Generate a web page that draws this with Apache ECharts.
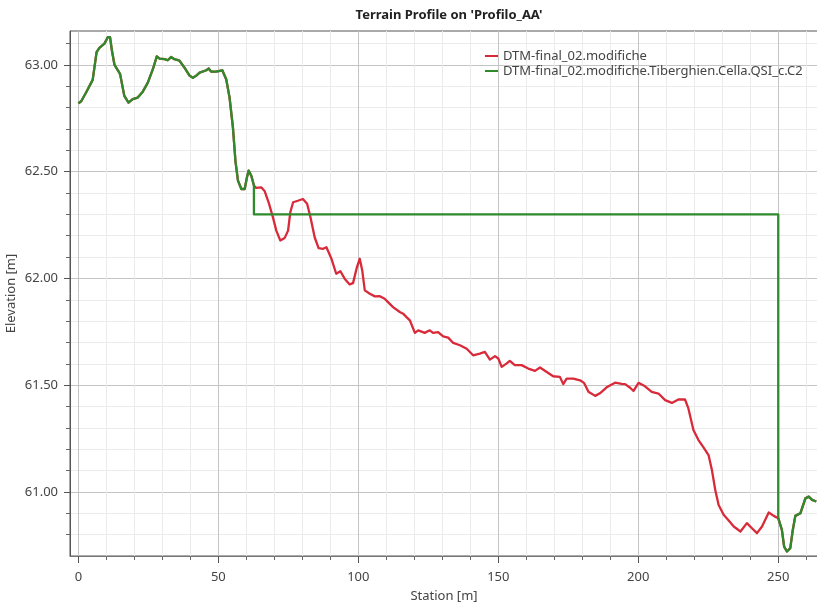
<!DOCTYPE html>
<html>
<head>
<meta charset="utf-8">
<script src="https://cdn.jsdelivr.net/npm/echarts@6/dist/echarts.min.js"></script>
<style>
html,body{margin:0;padding:0;background:#fff;}
#chart{width:817px;height:606px;}
</style>
</head>
<body>
<div id="chart"></div>
<script>
// ---- data ----
const titleText = "Terrain Profile on 'Profilo_AA'";
const seriesNames = ['DTM-final_02.modifiche', 'DTM-final_02.modifiche.Tiberghien.Cella.QSI_c.C2'];
const xAxisName = 'Station [m]';
const yAxisName = 'Elevation [m]';

const stations = [0,1,2.7,5.1,6.5,7.5,9.3,10.5,11.3,12.0,12.9,14.1,14.9,16.4,17.9,19.4,21.2,23.0,24.8,26.6,28.0,29.0,30.8,31.9,33.1,34.3,36.1,37.9,39.7,40.9,42.1,43.3,45.7,46.6,47.4,49.2,51.4,52.8,54.0,55.2,56.1,57.0,58.2,59.4,60.2,60.8,61.8,62.7,63.5,65.3,66.5,68.1,69.5,70.7,72.1,73.7,74.9,75.7,76.7,78.4,80.2,81.7,82.9,84.4,85.8,87.4,88.6,90.4,92.1,93.6,95.1,96.9,98.1,99.5,100.5,101.4,102.3,104.1,105.9,107.7,109.4,110.6,112.4,114.8,116.0,117.2,118.4,119.0,120.2,121.4,122.0,123.7,125.5,126.7,128.5,130.3,132.1,133.9,136.3,138.7,141.0,143.4,145.2,147.0,148.8,150.0,151.2,152.9,154.1,155.9,158.3,160.7,163.1,164.9,167.3,169.6,172.0,173.2,174.4,176.8,179.2,180.6,182.2,184.6,186.3,188.7,191.7,194.1,195.3,197.1,198.3,200.1,202.4,204.8,207.2,209.6,212.0,214.3,216.7,217.9,219.7,221.5,223.3,225.1,226.3,227.5,228.7,230.5,232.3,234.1,236.5,238.8,240.6,242.4,244.2,246.6,248.4,250.0,251.3,252.1,253.1,254.3,255.2,256.1,257.9,259.7,260.9,262.1,263.6];
const terrain = [62.82,62.83,62.87,62.93,63.06,63.08,63.10,63.13,63.13,63.065,63.00,62.975,62.957,62.855,62.824,62.84,62.847,62.875,62.917,62.98,63.04,63.03,63.027,63.022,63.037,63.027,63.02,62.987,62.95,62.94,62.95,62.964,62.975,62.983,62.969,62.969,62.975,62.933,62.847,62.707,62.55,62.458,62.419,62.419,62.473,62.505,62.48,62.435,62.424,62.427,62.41,62.35,62.286,62.224,62.178,62.19,62.224,62.31,62.357,62.364,62.372,62.35,62.287,62.193,62.142,62.139,62.146,62.092,62.022,62.034,61.999,61.972,61.978,62.053,62.092,62.037,61.944,61.928,61.916,61.917,61.905,61.889,61.866,61.843,61.835,61.819,61.804,61.796,61.745,61.757,61.765,61.745,61.757,61.745,61.749,61.729,61.723,61.698,61.687,61.671,61.64,61.648,61.656,61.62,61.636,61.625,61.586,61.601,61.614,61.594,61.594,61.578,61.567,61.583,61.562,61.542,61.539,61.505,61.531,61.531,61.523,61.511,61.469,61.45,61.462,61.49,61.512,61.506,61.505,61.488,61.473,61.511,61.495,61.469,61.461,61.43,61.417,61.433,61.433,61.391,61.29,61.243,61.209,61.173,61.103,61.009,60.939,60.893,60.866,60.838,60.815,60.854,60.83,60.807,60.838,60.904,60.888,60.877,60.822,60.744,60.721,60.737,60.822,60.888,60.9,60.97,60.978,60.963,60.955];

// design platform (green series) parameters
const platformStart = 62.7;
const platformEnd = 250.0;
const platformElev = 62.30;

// axis ticks
const xMajorTicks = [0,50,100,150,200,250];
const xMinorTicks = [10,20,30,40,60,70,80,90,110,120,130,140,160,170,180,190,210,220,230,240,260];
const yMajorTicks = [61.0,61.5,62.0,62.5,63.0];
const yMinorTicks = [60.8,60.9,61.1,61.2,61.3,61.4,61.6,61.7,61.8,61.9,62.1,62.2,62.3,62.4,62.6,62.7,62.8,62.9,63.1];

// ---- build series data ----
const terrainData = stations.map((s, i) => [s, terrain[i]]);
const designData = [];
stations.forEach((s, i) => { if (s <= platformStart) designData.push([s, terrain[i]]); });
designData.push([platformStart, platformElev]);
designData.push([platformEnd, platformElev]);
stations.forEach((s, i) => { if (s >= platformEnd) designData.push([s, terrain[i]]); });

const FONT = 'Noto Sans';
const xMin = -3, xMax = 264.2, yMin = 60.70, yMax = 63.159;

const chart = echarts.init(document.getElementById('chart'), null, {renderer: 'canvas'});
chart.setOption({
  animation: false,
  backgroundColor: '#ffffff',
  textStyle: {fontFamily: FONT},
  title: {
    text: titleText,
    left: 444, top: 4, textAlign: 'center',
    textStyle: {fontFamily: FONT, fontSize: 13, fontWeight: 'bold', color: '#222'}
  },
  legend: {
    left: 485, top: 49, orient: 'vertical', padding: 0, itemGap: 1,
    itemWidth: 13, itemHeight: 2, icon: 'rect',
    textStyle: {fontFamily: FONT, fontSize: 13, color: '#444', lineHeight: 14},
    data: seriesNames
  },
  grid: {left: 70, top: 31, right: -1, bottom: 50, show: true, borderColor: '#555', borderWidth: 1, containLabel: false, outerBoundsMode: 'none'},
  xAxis: [
    {
      type: 'value', min: xMin, max: xMax, position: 'bottom', gridIndex: 0,
      name: xAxisName, nameLocation: 'middle', nameGap: 34, nameMoveOverlap: false,
      nameTextStyle: {fontFamily: FONT, fontSize: 13, color: '#444'},
      axisLine: {show: true, onZero: false, lineStyle: {color: '#777', width: 1}},
      axisTick: {show: true, length: 7, customValues: xMajorTicks, lineStyle: {color: '#555'}},
      axisLabel: {customValues: xMajorTicks, margin: 15, fontFamily: FONT, fontSize: 13, color: '#444', formatter: v => String(v)},
      splitLine: {show: true, lineStyle: {color: '#c4c4c4', width: 1}}
    },
    {
      type: 'value', min: xMin, max: xMax, position: 'bottom', gridIndex: 0,
      axisLine: {show: false, onZero: false},
      axisTick: {show: true, length: 4, customValues: xMinorTicks, lineStyle: {color: '#666'}},
      axisLabel: {show: false},
      splitLine: {show: true, lineStyle: {color: '#ebebeb', width: 1}}
    }
  ],
  yAxis: [
    {
      type: 'value', min: yMin, max: yMax, position: 'left', gridIndex: 0,
      name: yAxisName, nameLocation: 'middle', nameGap: 52, nameRotate: 90, nameMoveOverlap: false,
      nameTextStyle: {fontFamily: FONT, fontSize: 13, color: '#444'},
      axisLine: {show: true, onZero: false, lineStyle: {color: '#555', width: 1}},
      axisTick: {show: true, length: 6, customValues: yMajorTicks, lineStyle: {color: '#555'}},
      axisLabel: {customValues: yMajorTicks, margin: 12, fontFamily: FONT, fontSize: 13, color: '#444', formatter: v => v.toFixed(2)},
      splitLine: {show: true, lineStyle: {color: '#c4c4c4', width: 1}}
    },
    {
      type: 'value', min: yMin, max: yMax, position: 'left', gridIndex: 0,
      axisLine: {show: false, onZero: false},
      axisTick: {show: true, length: 4, customValues: yMinorTicks, lineStyle: {color: '#666'}},
      axisLabel: {show: false},
      splitLine: {show: true, lineStyle: {color: '#ebebeb', width: 1}}
    }
  ],
  series: [
    {
      name: seriesNames[0], type: 'line', xAxisIndex: 0, yAxisIndex: 0,
      data: terrainData, showSymbol: false, symbol: 'none', smooth: false,
      itemStyle: {color: '#d92a3a'},
      lineStyle: {color: '#d92a3a', width: 2.3, join: 'round'}, z: 3
    },
    {
      name: seriesNames[1], type: 'line', xAxisIndex: 0, yAxisIndex: 0,
      data: designData, showSymbol: false, symbol: 'none', smooth: false,
      itemStyle: {color: '#2f8a2c'},
      lineStyle: {color: '#2f8a2c', width: 2.3, join: 'round'}, z: 4
    }
  ]
});
</script>
</body>
</html>
